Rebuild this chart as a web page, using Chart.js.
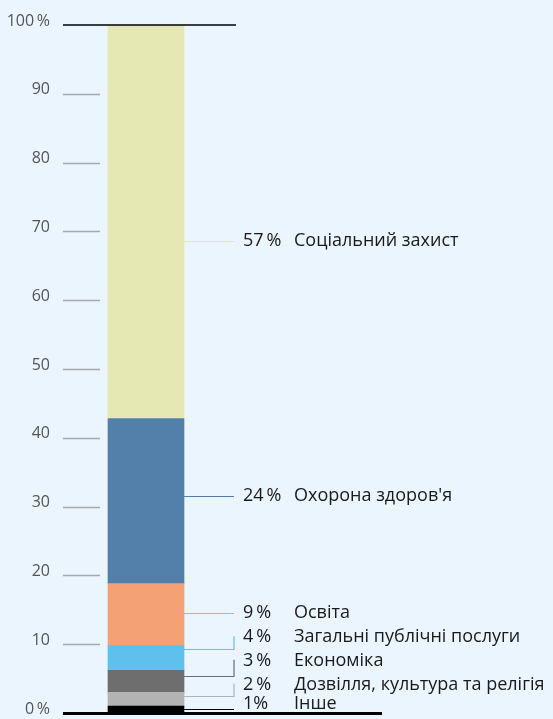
<!DOCTYPE html>
<html>
<head>
<meta charset="utf-8">
<script src="https://cdn.jsdelivr.net/npm/chart.js@4"></script>
<style>
html,body{margin:0;padding:0;background:#eaf5fd;}
#wrap{width:553px;height:719px;}
</style>
</head>
<body>
<div id="wrap"><canvas id="c" width="553" height="719"></canvas></div>
<script>
// Data (bottom to top of the stacked bar)
const categories = ['Інше', 'Дозвілля, культура та релігія', 'Економіка', 'Загальні публічні послуги', 'Освіта', 'Охорона здоров\'я', 'Соціальний захист'];
const values = [1, 2, 3.2, 3.6, 9, 24, 57.2];
const percentLabels = ['1%', '2\u2009%', '3\u2009%', '4\u2009%', '9\u2009%', '24\u2009%', '57\u2009%'];
const yTicks = [0, 10, 20, 30, 40, 50, 60, 70, 80, 90, 100];

// Styles
const colors = ['#000000', '#b3b3b3', '#6e6e6e', '#5fc0ee', '#f4a175', '#537fab', '#e5e8b3'];
// label layout (in axis units): leader attach point and text position
const leaderAt = [0.6, 2.5, 5.4, 9.3, 14.5, 31.5, 68.6];
const textAt   = [1.3, 4.1, 7.6, 11.0, 14.5, 31.5, 68.6];

const FONT = '"Open Sans", "Noto Sans", sans-serif';

const annot = {
  id: 'annot',
  afterDatasetsDraw(chart) {
    const ctx = chart.ctx;
    const y = chart.scales.y;
    const area = chart.chartArea;
    const bar = chart.getDatasetMeta(0).data[0];
    const barRight = bar.x + bar.width / 2;
    ctx.save();
    // tick marks
    ctx.strokeStyle = '#a9a9a9';
    ctx.lineWidth = 1.3;
    yTicks.forEach(v => {
      if (v === 0 || v === 100) return;
      const py = Math.round(y.getPixelForValue(v)) + 0.5;
      ctx.beginPath();
      ctx.moveTo(area.left, py);
      ctx.lineTo(area.left + 37, py);
      ctx.stroke();
    });
    // top line
    ctx.strokeStyle = '#000';
    ctx.lineWidth = 1.6;
    let py = y.getPixelForValue(100);
    ctx.beginPath(); ctx.moveTo(area.left, py); ctx.lineTo(barRight + 52, py); ctx.stroke();

    // leaders and labels
    const bx = barRight + 50;
    for (let i = 0; i < categories.length; i++) {
      const ly = Math.round(y.getPixelForValue(leaderAt[i])) + 0.5;
      const ty = y.getPixelForValue(textAt[i]);
      ctx.strokeStyle = colors[i];
      ctx.lineWidth = 1.2;
      ctx.beginPath();
      ctx.moveTo(barRight, ly);
      ctx.lineTo(bx, ly);
      if (Math.abs(ty - ly) > 3 && i > 0) {
        ctx.lineTo(bx, ty - 1);
      }
      ctx.stroke();
      ctx.fillStyle = '#1a1a1a';
      ctx.font = '18px ' + FONT;
      ctx.textBaseline = 'middle';
      ctx.textAlign = 'left';
      ctx.fillText(percentLabels[i], barRight + 59, ty);
      ctx.fillText(categories[i], barRight + 110, ty);
    }
    // bottom axis line
    ctx.strokeStyle = '#000';
    ctx.lineWidth = 3;
    py = y.getPixelForValue(0) + 0.5;
    ctx.beginPath(); ctx.moveTo(area.left, py); ctx.lineTo(382, py); ctx.stroke();
    ctx.restore();
  }
};

new Chart(document.getElementById('c'), {
  type: 'bar',
  data: {
    labels: [''],
    datasets: categories.map((name, i) => ({
      label: name,
      data: [values[i]],
      backgroundColor: colors[i],
      borderWidth: 0,
      barThickness: 76
    }))
  },
  options: {
    responsive: false,
    animation: false,
    layout: { padding: { top: 25, bottom: 6, left: 0, right: 324 } },
    plugins: { legend: { display: false }, tooltip: { enabled: false } },
    scales: {
      x: { stacked: true, display: false },
      y: {
        stacked: true,
        min: 0, max: 100,
        border: { display: false },
        grid: { display: true, drawOnChartArea: false, drawTicks: true, tickLength: 13, color: 'rgba(0,0,0,0)' },
        afterFit(scale) { scale.width = 63; },
        ticks: {
          stepSize: 10,
          padding: 0,
          labelOffset: -4,
          color: '#555',
          font: { family: FONT, size: 16, lineHeight: 0.7 },
          callback: v => v === 100 ? '100\u2009%' : (v === 0 ? '0\u2009%' : String(v))
        }
      }
    }
  },
  plugins: [annot]
});
</script>
</body>
</html>
